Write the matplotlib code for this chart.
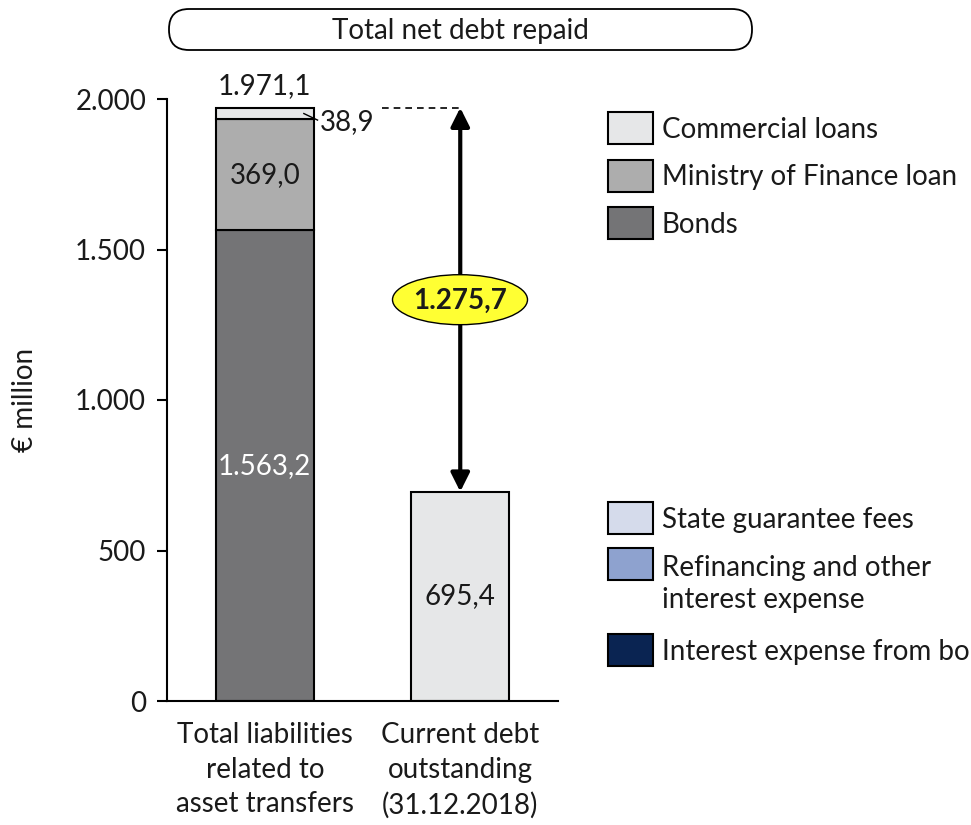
import matplotlib
matplotlib.use("Agg")
import matplotlib.pyplot as plt
from matplotlib.patches import FancyBboxPatch, Rectangle, Ellipse

plt.rcParams['font.family'] = ['Lato', 'DejaVu Sans']

# data
categories = ["Total liabilities\nrelated to\nasset transfers",
              "Current debt\noutstanding\n(31.12.2018)"]
bonds = [1563.2, 0.0]
mof_loans = [369.0, 0.0]
commercial = [38.9, 695.4]
yticks = [0, 500, 1000, 1500, 2000]

legend_top = ["Commercial loans", "Ministry of Finance loan", "Bonds"]
legend_bottom = ["State guarantee fees", "Refinancing and other\ninterest expense",
                 "Interest expense from bonds"]

c_comm = "#e6e7e8"
c_mof = "#adadad"
c_bond = "#747476"
c_fee = "#d5dbeb"
c_refi = "#8ea2cf"
c_int = "#0a2452"
txt = "#1a1a1a"
fs = 20


def fmt(v, dec=1):
    s = f"{v:,.{dec}f}"
    return s.replace(",", "X").replace(".", ",").replace("X", ".")


W, H = 971, 825
fig = plt.figure(figsize=(W / 100, H / 100), dpi=100)
ax = fig.add_axes([167 / W, 1 - 701 / H, (558 - 167) / W, (701 - 99) / H])

x = [0, 1]
bw = 0.5
ax.bar(x, bonds, bw, color=c_bond, edgecolor="black", lw=1.5)
ax.bar(x, mof_loans, bw, bottom=bonds, color=c_mof, edgecolor="black", lw=1.5)
base2 = [b + m for b, m in zip(bonds, mof_loans)]
ax.bar(x, commercial, bw, bottom=base2, color=c_comm, edgecolor="black", lw=1.5)

ax.set_xlim(-0.5, 1.5)
ax.set_ylim(0, 2000)
ax.set_yticks(yticks)
ax.set_yticklabels([fmt(v, 0) for v in yticks], fontsize=fs, color=txt)
ax.set_xticks(x)
ax.set_xticklabels(categories, fontsize=fs, color=txt, linespacing=1.42)
ax.tick_params(axis="y", direction="out", length=7, width=1.5, pad=8)
ax.tick_params(axis="x", length=0, pad=15)
for s in ["top", "right"]:
    ax.spines[s].set_visible(False)
ax.spines["left"].set_linewidth(1.5)
ax.spines["bottom"].set_linewidth(1.5)

# segment labels
total1 = bonds[0] + mof_loans[0] + commercial[0]
ax.text(0, bonds[0] / 2, fmt(bonds[0]), ha="center", va="center", fontsize=fs, color="white")
ax.text(0, bonds[0] + mof_loans[0] / 2, fmt(mof_loans[0]), ha="center", va="center", fontsize=fs, color=txt)
ax.text(1, commercial[1] / 2, fmt(commercial[1]), ha="center", va="center", fontsize=fs, color=txt)
ax.text(0, total1 + 30, fmt(total1), ha="center", va="bottom", fontsize=fs, color=txt)
ax.plot([0.2, 0.27], [base2[0] + commercial[0] / 2, 1930], color="black", lw=1)
ax.text(0.28, 1925, fmt(commercial[0]), ha="left", va="center", fontsize=fs, color=txt)

# net repaid arrow
total2 = commercial[1]
ax.plot([0.6, 1.0], [total1, total1], color="black", lw=1.2, ls=(0, (4, 3)))
ax.annotate("", xy=(1, total2), xytext=(1, total1),
            arrowprops=dict(arrowstyle="<|-|>", color="black", lw=3, mutation_scale=28,
                            shrinkA=0, shrinkB=0))

# overlay in pixel coords
ov = fig.add_axes([0, 0, 1, 1], facecolor="none")
ov.set_xlim(0, W)
ov.set_ylim(H, 0)
ov.axis("off")

ymid = 701 - (total1 + total2) / 2 * (602 / 2000)
ov.add_patch(Ellipse((460, ymid), 135, 50, facecolor="#ffff33", edgecolor="black", lw=1))
ov.text(460, ymid + 1, fmt(total1 - total2), ha="center", va="center", fontsize=fs,
        fontweight="bold", color=txt)

ov.add_patch(FancyBboxPatch((169, 9), 583, 41, boxstyle="round,pad=0,rounding_size=20",
                            facecolor="white", edgecolor="black", lw=1.3))
ov.text(460, 31, "Total net debt repaid", ha="center", va="center", fontsize=fs, color=txt)

ov.text(25, 400, "€ million", rotation=90, ha="center", va="center", fontsize=fs, color=txt)

for i, (lab, col) in enumerate(zip(legend_top, [c_comm, c_mof, c_bond])):
    y0 = 112 + i * 47.5
    ov.add_patch(Rectangle((608, y0), 45, 32, facecolor=col, edgecolor="black", lw=1.5))
    ov.text(662, y0 + 18, lab, ha="left", va="center", fontsize=fs, color=txt)

for y0, lab, col in zip([502, 548, 634], legend_bottom, [c_fee, c_refi, c_int]):
    ov.add_patch(Rectangle((608, y0), 45, 32, facecolor=col, edgecolor="black", lw=1.5))
    n = lab.count("\n")
    ov.text(662, y0 + 18 + n * 18, lab, ha="left", va="center", fontsize=fs, color=txt,
            linespacing=1.3)

fig.savefig("out.png", dpi=100)
